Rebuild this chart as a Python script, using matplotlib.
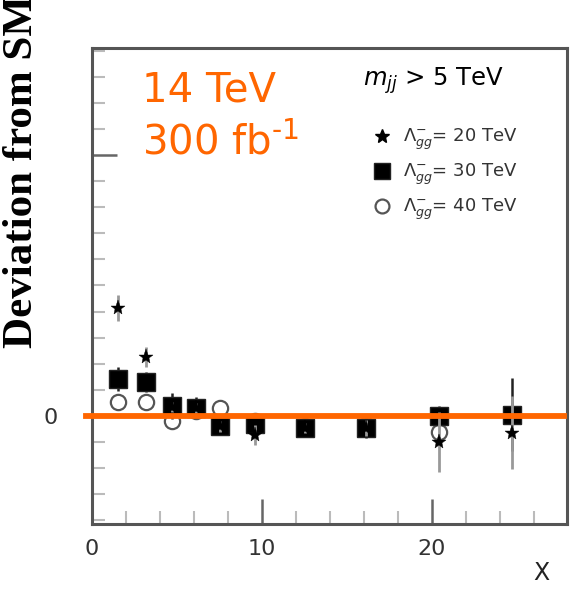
import matplotlib
matplotlib.use("Agg")
import matplotlib.pyplot as plt
from matplotlib.lines import Line2D
from matplotlib.ticker import MultipleLocator, FixedLocator

# ---- data ----
x_pos = [1.5, 3.2, 4.7, 6.1, 7.5, 9.6, 12.5, 16.1, 20.4, 24.7]
star_y = [0.414, 0.226, 0.035, 0.030, -0.040, -0.073, -0.046, -0.046, -0.100, -0.065]
star_err = [0.05, 0.04, 0.02, 0.02, 0.02, 0.04, 0.02, 0.03, 0.115, 0.14]
square_y = [0.142, 0.130, 0.038, 0.031, -0.038, -0.031, -0.046, -0.046, 0.000, 0.004]
square_err = [0.045, 0.04, 0.05, 0.04, 0.03, 0.035, 0.03, 0.04, 0.04, 0.14]
circle_y = [0.054, 0.054, -0.019, 0.020, 0.031, -0.020, -0.040, -0.035, -0.061, 0.000]
circle_err = [0.02, 0.02, 0.03, 0.03, 0.03, 0.03, 0.03, 0.03, 0.04, 0.05]
series_labels = [r"$\Lambda^{-}_{gg}$= 20 TeV", r"$\Lambda^{-}_{gg}$= 30 TeV", r"$\Lambda^{-}_{gg}$= 40 TeV"]
xtick_vals = [0, 10, 20]
xtick_labels = ["0", "10", "20"]
ytick_vals = [0, 1]
ytick_labels = ["0", ""]

fig = plt.figure(figsize=(5.7, 5.89), dpi=100)
ax = fig.add_axes([92 / 570, 65 / 589, 475 / 570, 476 / 589])
ax.set_xlim(0, 475 / 17)
ax.set_ylim(-0.414, 1.41)

for s in ax.spines.values():
    s.set_linewidth(2.2)
    s.set_color("#555555")

ax.xaxis.set_major_locator(FixedLocator(xtick_vals))
ax.set_xticklabels(xtick_labels)
ax.xaxis.set_minor_locator(MultipleLocator(2))
ax.yaxis.set_major_locator(FixedLocator(ytick_vals))
ax.set_yticklabels(ytick_labels)
ax.yaxis.set_minor_locator(MultipleLocator(0.1))

ax.tick_params(which="major", direction="in", length=18, width=1.8, color="#666666",
               labelsize=16, labelcolor="#333333")
ax.tick_params(axis="x", which="major", pad=11)
ax.tick_params(axis="y", which="major", pad=25)
ax.tick_params(which="minor", direction="in", length=9.4, width=1.5, color="#bbbbbb")

# data
ax.errorbar(x_pos, circle_y, yerr=circle_err, fmt="o", ms=11, mfc="white", mec="#555555",
            mew=1.6, ecolor="#bbbbbb", elinewidth=2, capsize=0, zorder=3)
ax.errorbar(x_pos, square_y, yerr=square_err, fmt="s", ms=12.5, mfc="black", mec="#222222",
            mew=1, ecolor="#222222", elinewidth=1.8, capsize=0, zorder=4)
ax.errorbar(x_pos, star_y, yerr=star_err, fmt="*", ms=11, mfc="black", mec="black",
            mew=0.3, ecolor="#999999", elinewidth=2, capsize=0, zorder=5)

# orange line at zero
ax.axhline(0, xmin=-6 / 475, xmax=0.994, color="#ff6600", lw=4.2, zorder=10, clip_on=False)

# texts
fig.text(142 / 570, 1 - 102 / 589, "14 TeV", color="#ff6600",
         fontsize=29, ha="left", va="baseline")
fig.text(142 / 570, 1 - 155 / 589, r"300 fb$^{\text{-}\mathregular{1}}$",
         color="#ff6600", fontsize=29, ha="left", va="baseline")
fig.text(363 / 570, 1 - 86 / 589, r"$m_{jj}$ > 5 TeV", color="black",
         fontsize=17.5, ha="left", va="baseline")

handles = [
    Line2D([], [], ls="none", marker="*", ms=10, mfc="black", mec="black"),
    Line2D([], [], ls="none", marker="s", ms=12, mfc="black", mec="#222222"),
    Line2D([], [], ls="none", marker="o", ms=10, mfc="white", mec="#555555", mew=1.6),
]
ax.legend(handles, series_labels, loc="upper left", bbox_to_anchor=(362 / 570, 1 - 118 / 589),
          bbox_transform=fig.transFigure, frameon=False, fontsize=13, labelcolor="#333333",
          handletextpad=0.55, labelspacing=0.55, borderpad=0, handlelength=1.2)

fig.text(541 / 570, 1 - 573 / 589, "X", fontsize=17, color="#222222", ha="center", va="center")
fig.text(22 / 570, 1 - 348 / 589, "Deviation from SM", rotation=90, fontsize=31,
         fontweight="bold", family="Liberation Serif", ha="center", va="bottom")

fig.savefig("out.png", dpi=100)
